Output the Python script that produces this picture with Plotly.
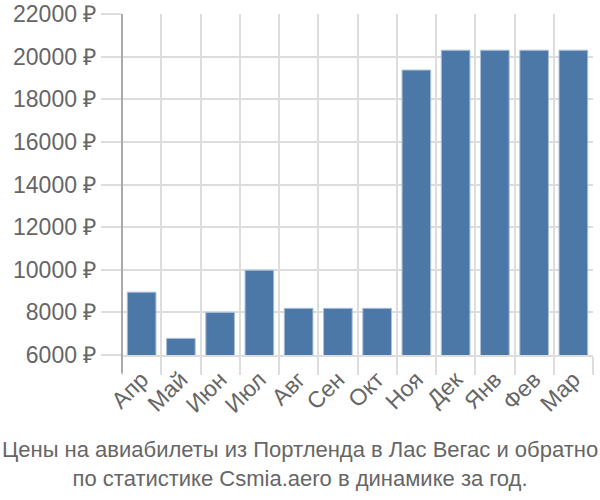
import plotly.graph_objects as go

months = ["Апр", "Май", "Июн", "Июл", "Авг", "Сен", "Окт", "Ноя", "Дек", "Янв", "Фев", "Мар"]
prices = [8950, 6780, 8000, 9980, 8190, 8190, 8190, 19370, 20300, 20300, 20300, 20300]
y_ticks = [6000, 8000, 10000, 12000, 14000, 16000, 18000, 20000, 22000]
y_labels = [f"{v} ₽" for v in y_ticks]
title_lines = ["Цены на авиабилеты из Портленда в Лас Вегас и обратно",
               "по статистике Csmia.aero в динамике за год."]

ML, MR, MT, MB = 122, 7, 14, 145
PH = 500 - MT - MB
grid = "#dddddd"
fig = go.Figure(go.Bar(
    x=months, y=prices,
    marker=dict(color="#4c78a8", line=dict(color="#a9bfd8", width=1)),
))
fig.update_layout(
    width=600, height=500,
    margin=dict(l=ML, r=MR, t=MT, b=MB, autoexpand=False),
    paper_bgcolor="white", plot_bgcolor="white",
    bargap=0.27,
    showlegend=False,
    font=dict(family="Liberation Sans, Arial, sans-serif", color="#666666", size=23),
    annotations=[dict(
        text="<br>".join(title_lines),
        x=(300 - ML) / (600 - ML - MR), xref="paper", xanchor="center",
        y=-0.235, yref="paper", yanchor="top", showarrow=False,
        font=dict(family="Liberation Sans, sans-serif", size=22, color="#666666"),
    )],
    shapes=[dict(type="line", xref="paper", yref="paper", x0=0, x1=0,
                 y0=1, y1=-18 / PH, line=dict(color="#aaaaaa", width=2))],
)
fig.update_xaxes(
    type="category", showgrid=True, gridcolor=grid, gridwidth=2,
    tickson="boundaries", ticks="outside", ticklen=18, tickcolor=grid, tickwidth=2,
    tickangle=-45, tickfont=dict(size=23, color="#666666"),
    showline=True, linecolor=grid, linewidth=2, zeroline=False, automargin=False,
)
fig.update_yaxes(
    range=[6000, 22000], tickvals=y_ticks, ticktext=y_labels,
    showgrid=True, gridcolor=grid, gridwidth=2,
    ticks="outside", ticklen=20, tickcolor=grid, tickwidth=2,
    showline=False, zeroline=False, automargin=False,
    tickfont=dict(size=23, color="#666666"),
)
fig.write_html("out.html")
